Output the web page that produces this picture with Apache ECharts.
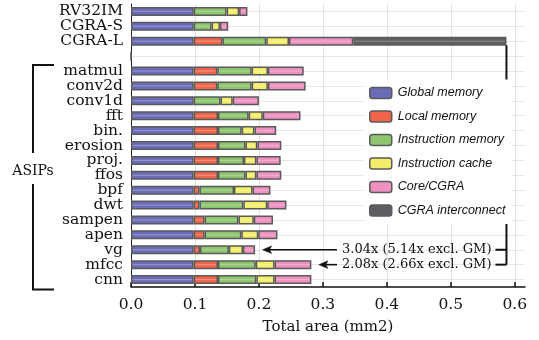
<!DOCTYPE html>
<html><head><meta charset="utf-8">
<script src="https://cdn.jsdelivr.net/npm/echarts@6/dist/echarts.min.js"></script>
<style>html,body{margin:0;padding:0;background:#fff}#main{width:539px;height:340px}</style>
</head><body><div id="main"></div>
<script>
const categories = ['RV32IM','CGRA-S','CGRA-L','','matmul','conv2d','conv1d','fft','bin.','erosion','proj.','ffos','bpf','dwt','sampen','apen','vg','mfcc','cnn'];
const seriesNames = ['Global memory','Local memory','Instruction memory','Instruction cache','Core/CGRA','CGRA interconnect'];
const globalMemory      = [0.098,0.098,0.098,0,   0.098,0.098,0.098,0.098,0.098,0.098,0.098,0.098,0.098,0.098,0.098,0.098,0.098,0.098,0.098];
const localMemory       = [null,null,0.045,null,  0.037,0.037,null,0.038,0.038,0.038,0.038,0.038,0.009,0.009,0.017,0.017,0.010,0.038,0.038];
const instructionMemory = [0.0515,0.028,0.0685,null,0.0536,0.0536,0.042,0.048,0.037,0.043,0.0406,0.043,0.054,0.0686,0.053,0.0575,0.045,0.059,0.060];
const instructionCache  = [0.0195,0.013,0.0355,null,0.0254,0.0254,0.019,0.022,0.020,0.0185,0.0194,0.017,0.029,0.0374,0.024,0.0265,0.022,0.0295,0.0285];
const coreCGRA          = [0.013,0.013,0.1005,null,0.056,0.059,0.041,0.059,0.034,0.0375,0.038,0.039,0.028,0.030,0.030,0.030,0.019,0.0575,0.0575];
const cgraInterconnect  = [null,null,0.2395,null,null,null,null,null,null,null,null,null,null,null,null,null,null,null,null];
const xTicks = [0,0.1,0.2,0.3,0.4,0.5,0.6];
const annotations = [
  {cat:'vg',   text:'3.04x (5.14x excl. GM)'},
  {cat:'mfcc', text:'2.08x (2.66x excl. GM)'}
];
const bracketTop = 'CGRA-L';

const colors = ['#6b6cb8','#f0644a','#8dc56f','#f3ee6a','#ee90c0','#5e5e62'];
const allData = [globalMemory,localMemory,instructionMemory,instructionCache,coreCGRA,cgraInterconnect];

function lighten(hex, t){
  const n=parseInt(hex.slice(1),16);
  const r=(n>>16)&255,g=(n>>8)&255,b=n&255;
  const f=v=>Math.round(v+(255-v)*t);
  return 'rgb('+f(r)+','+f(g)+','+f(b)+')';
}
function grad(c){
  const l=lighten(c,0.28);
  return {type:'linear',x:0,y:0,x2:0,y2:1,colorStops:[
    {offset:0,color:c},{offset:0.38,color:c},{offset:0.5,color:l},{offset:0.62,color:c},{offset:1,color:c}]};
}

const serif = 'DejaVu Serif';
const chart = echarts.init(document.getElementById('main'), null, {renderer:'canvas'});
const option = {
  animation:false,
  grid:{left:131,right:14,top:4,bottom:52},
  xAxis:{type:'value',min:0,max:0.616,interval:0.1,
    name:'Total area (mm2)',nameLocation:'middle',nameGap:33,
    nameTextStyle:{fontFamily:serif,fontSize:15,color:'#111'},
    axisLine:{show:true,lineStyle:{color:'#111',width:1.5}},
    axisTick:{show:true,inside:true,length:5,lineStyle:{color:'#111',width:1.5}},
    axisLabel:{fontFamily:serif,fontSize:15.5,color:'#111',margin:10,showMaxLabel:false,
      formatter:v=>xTicks.some(t=>Math.abs(t-v)<1e-9)?v.toFixed(1):''},
    splitLine:{show:true,showMaxLine:false,lineStyle:{color:'#e2e2e2',width:1}}
  },
  yAxis:{type:'category',data:categories,inverse:true,
    axisLine:{show:true,lineStyle:{color:'#222',width:1}},
    axisTick:{show:false},
    axisLabel:{interval:0,fontFamily:serif,fontSize:15.5,color:'#111',margin:8},
    splitLine:{show:true,interval:0,alignWithLabel:true,lineStyle:{color:'#e6e6e6',width:1}}
  },
  legend:{orient:'vertical',left:364,top:79.5,itemWidth:22,itemHeight:11,itemGap:10.5,
    padding:[7,6,7,5],backgroundColor:'#fff',z:20,
    itemStyle:{borderColor:'#5a5a5a',borderWidth:1.5},
    textStyle:{fontStyle:'italic',fontFamily:'Liberation Sans',fontSize:12.5,color:'#111',padding:[0,0,0,1]},
    data:seriesNames.map((n,i)=>({name:n,itemStyle:{color:colors[i]}}))
  },
  series:seriesNames.map((n,i)=>({
    name:n,type:'bar',stack:'total',barWidth:9,data:allData[i],
    itemStyle:{color:grad(colors[i]),borderColor:'#5a5a5a',borderWidth:1.5},
    emphasis:{disabled:true}
  }))
};
chart.setOption(option);

function total(idx){ let s=0; allData.forEach(a=>{ if(a[idx]) s+=a[idx]; }); return s; }
function px(v,cat){ return chart.convertToPixel({gridIndex:0},[v,cat]); }

const g = [];
const blk = '#111';
// ASIPs bracket
const pTop = px(0,'matmul'), pBot = px(0,'cnn');
const bTop = pTop[1]-6, bBot = pBot[1]+10, bx = 33, bx2 = 54;
const txtY = 171;
g.push({type:'polyline',z:5,shape:{points:[[bx2,bTop],[bx,bTop],[bx,txtY-18]]},style:{stroke:blk,lineWidth:2,fill:null}});
g.push({type:'polyline',z:5,shape:{points:[[bx,txtY+13],[bx,bBot],[bx2,bBot]]},style:{stroke:blk,lineWidth:2,fill:null}});
g.push({type:'text',z:5,style:{text:'ASIPs',x:bx,y:txtY,align:'center',verticalAlign:'middle',font:'14px "DejaVu Serif"',fill:'#111'}});

// right bracket
const idxL = categories.indexOf(bracketTop);
const pL = px(total(idxL), bracketTop);
const rx = pL[0];
const lastCat = annotations[annotations.length-1].cat;
const pLast = px(0,lastCat);
g.push({type:'line',z:5,shape:{x1:rx,y1:pL[1]+4,x2:rx,y2:pLast[1]},style:{stroke:blk,lineWidth:2}});
const textRight = rx-15;
annotations.forEach(a=>{
  const idx = categories.indexOf(a.cat);
  const p = px(total(idx), a.cat);
  const y = p[1];
  g.push({type:'line',z:5,shape:{x1:textRight+4,y1:y,x2:rx,y2:y},style:{stroke:blk,lineWidth:2}});
  g.push({type:'text',z:5,style:{text:a.text,x:textRight,y:y,align:'right',verticalAlign:'middle',font:'13px "DejaVu Serif"',fill:'#111'}});
  const tip = p[0]+7.5, start = 337;
  g.push({type:'line',z:5,shape:{x1:tip+6,y1:y,x2:start,y2:y},style:{stroke:blk,lineWidth:1.6}});
  g.push({type:'polygon',z:5,shape:{points:[[tip,y],[tip+9,y-3.8],[tip+7,y],[tip+9,y+3.8]]},style:{fill:blk,stroke:blk,lineWidth:0.5}});
});
chart.setOption({graphic:{elements:g}});
</script>
</body></html>
